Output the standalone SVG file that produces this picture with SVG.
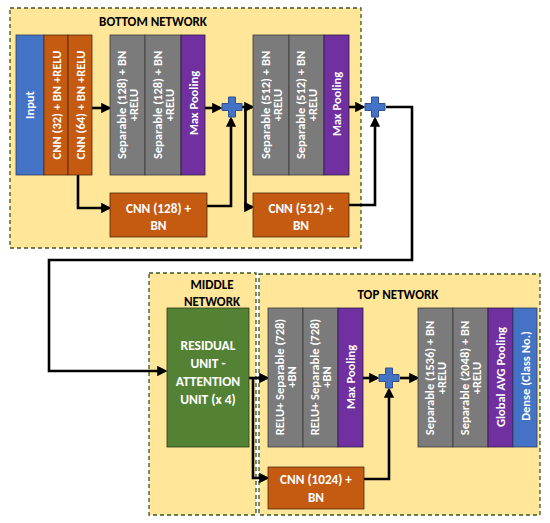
<svg xmlns="http://www.w3.org/2000/svg" width="550" height="523" viewBox="0 0 550 523">
<style>
.panel{fill:#FFE699;stroke:#38572A;stroke-width:1.3;stroke-dasharray:4 3}
.title{font-family:Carlito,"Liberation Sans",sans-serif;font-weight:bold;font-size:13px;fill:#000;text-anchor:middle}
.lbl{font-family:Carlito,"Liberation Sans",sans-serif;font-weight:bold;font-size:12.5px;fill:#fff;text-anchor:middle}
.hl{font-size:13.2px}
.blue{fill:#4472C4;stroke:#2F3F5F;stroke-width:0.8}
.org{fill:#C55A11;stroke:#4A2A10;stroke-width:0.8}
.gray{fill:#7B7B7B;stroke:#3A3A3A;stroke-width:0.8}
.pur{fill:#7030A0;stroke:#2A1A40;stroke-width:0.8}
.grn{fill:#548235;stroke:#2A3A1A;stroke-width:0.8}
.plus{fill:#4472C4;stroke:#2F528F;stroke-width:1}
.wire{fill:none;stroke:#000;stroke-width:2.6;marker-end:url(#ah)}
</style>
<defs>
<marker id="ah" markerWidth="4" markerHeight="4" refX="3" refY="2" orient="auto" markerUnits="strokeWidth">
<path d="M0,0 L4,2 L0,4 Z" fill="#000"/>
</marker>
<path id="plusShape" d="M-3.5,-10 H3.5 V-3.5 H10 V3.5 H3.5 V10 H-3.5 V3.5 H-10 V-3.5 H-3.5 Z"/>
</defs>

<g id="panel-bottom">
<rect class="panel" x="10" y="8" width="351" height="240"/>
<text class="title" x="153" y="26">BOTTOM NETWORK</text>
</g>
<g id="panel-middle">
<rect class="panel" x="149" y="273" width="107" height="242"/>
<text class="title" x="212" y="289">MIDDLE</text>
<text class="title" x="212" y="306">NETWORK</text>
</g>
<g id="panel-top">
<rect class="panel" x="259" y="274" width="281" height="241"/>
<text class="title" x="398" y="299">TOP NETWORK</text>
</g>

<g id="connectors">
<path class="wire" d="M92,108 H109"/>
<path class="wire" d="M205,108 H220"/>
<path class="wire" d="M242,107 H252"/>
<path class="wire" d="M78,175 V208 H109"/>
<path class="wire" d="M207,206 H231 V119"/>
<path class="wire" d="M245.5,107 V207 H252"/>
<path class="wire" d="M349,107 H363"/>
<path class="wire" d="M349,205 H375 V119"/>
<path class="wire" d="M386,107 H412 V260 H49 V371 H165"/>
<path class="wire" d="M249,378 H267"/>
<path class="wire" d="M253,378 V478 H267"/>
<path class="wire" d="M363,378 H377"/>
<path class="wire" d="M400,378 H417"/>
<path class="wire" d="M364,479 H389 V390"/>
</g>

<g id="input">
<rect class="blue" x="16" y="35" width="28" height="140"/>
<text class="lbl" transform="translate(30,105) rotate(-90)" y="3.5">Input</text>
</g>
<g id="cnn32">
<rect class="org" x="44" y="35" width="24" height="140"/>
<text class="lbl" transform="translate(56,105) rotate(-90)" y="4.5">CNN (32) + BN +RELU</text>
</g>
<g id="cnn64">
<rect class="org" x="68" y="35" width="24" height="140"/>
<text class="lbl" transform="translate(80,105) rotate(-90)" y="4.5">CNN (64) + BN +RELU</text>
</g>
<g id="sep128a">
<rect class="gray" x="110" y="35" width="35" height="140"/>
<text class="lbl" transform="translate(127.5,105) rotate(-90)"><tspan x="0" y="-1.5">Separable (128) + BN</tspan><tspan x="0" y="10.5">+RELU</tspan></text>
</g>
<g id="sep128b">
<rect class="gray" x="145" y="35" width="36" height="140"/>
<text class="lbl" transform="translate(163,105) rotate(-90)"><tspan x="0" y="-1.5">Separable (128) + BN</tspan><tspan x="0" y="10.5">+RELU</tspan></text>
</g>
<g id="maxpool1">
<rect class="pur" x="181" y="35" width="24" height="140"/>
<text class="lbl" transform="translate(193,103) rotate(-90)" y="4.5">Max Pooling</text>
</g>
<g id="cnn128">
<rect class="org" x="110" y="193" width="97" height="44"/>
<text class="lbl hl" x="158.5" y="213">CNN (128) +</text>
<text class="lbl hl" x="158.5" y="230">BN</text>
</g>
<g id="add1">
<use href="#plusShape" class="plus" transform="translate(232,107)"/>
</g>
<g id="sep512a">
<rect class="gray" x="253" y="35" width="36" height="140"/>
<text class="lbl" transform="translate(271,105) rotate(-90)"><tspan x="0" y="-1.5">Separable (512) + BN</tspan><tspan x="0" y="10.5">+RELU</tspan></text>
</g>
<g id="sep512b">
<rect class="gray" x="289" y="35" width="35" height="140"/>
<text class="lbl" transform="translate(306.5,105) rotate(-90)"><tspan x="0" y="-1.5">Separable (512) + BN</tspan><tspan x="0" y="10.5">+RELU</tspan></text>
</g>
<g id="maxpool2">
<rect class="pur" x="324" y="35" width="25" height="140"/>
<text class="lbl" transform="translate(336.5,104) rotate(-90)" y="4.5">Max Pooling</text>
</g>
<g id="cnn512">
<rect class="org" x="253" y="193" width="96" height="44"/>
<text class="lbl hl" x="301" y="213">CNN (512) +</text>
<text class="lbl hl" x="301" y="230">BN</text>
</g>
<g id="add2">
<use href="#plusShape" class="plus" transform="translate(375,107)"/>
</g>

<g id="residual">
<rect class="grn" x="167" y="308" width="82" height="139"/>
<text class="lbl" x="208" y="350" style="font-size:13.5px">RESIDUAL</text>
<text class="lbl" x="208" y="368" style="font-size:13.5px">UNIT -</text>
<text class="lbl" x="208" y="386" style="font-size:13.5px">ATTENTION</text>
<text class="lbl" x="208" y="404" style="font-size:13.5px">UNIT (x 4)</text>
</g>

<g id="sep728a">
<rect class="gray" x="268" y="308" width="35" height="139"/>
<text class="lbl" transform="translate(285.5,377) rotate(-90)"><tspan x="0" y="-1.5">RELU+ Separable (728)</tspan><tspan x="0" y="10.5">+BN</tspan></text>
</g>
<g id="sep728b">
<rect class="gray" x="303" y="308" width="35" height="139"/>
<text class="lbl" transform="translate(320.5,377) rotate(-90)"><tspan x="0" y="-1.5">RELU+ Separable (728)</tspan><tspan x="0" y="10.5">+BN</tspan></text>
</g>
<g id="maxpool3">
<rect class="pur" x="338" y="308" width="25" height="139"/>
<text class="lbl" transform="translate(350.5,377) rotate(-90)" y="4.5">Max Pooling</text>
</g>
<g id="cnn1024">
<rect class="org" x="268" y="467" width="96" height="42"/>
<text class="lbl hl" x="316" y="484">CNN (1024) +</text>
<text class="lbl hl" x="316" y="502">BN</text>
</g>
<g id="add3">
<use href="#plusShape" class="plus" transform="translate(389,378)"/>
</g>
<g id="sep1536">
<rect class="gray" x="418" y="308" width="35" height="139"/>
<text class="lbl" transform="translate(435.5,378) rotate(-90)"><tspan x="0" y="-1.5">Separable (1536) + BN</tspan><tspan x="0" y="10.5">+RELU</tspan></text>
</g>
<g id="sep2048">
<rect class="gray" x="453" y="308" width="35" height="139"/>
<text class="lbl" transform="translate(470.5,378) rotate(-90)"><tspan x="0" y="-1.5">Separable (2048) + BN</tspan><tspan x="0" y="10.5">+RELU</tspan></text>
</g>
<g id="gap">
<rect class="pur" x="488" y="308" width="25" height="139"/>
<text class="lbl" transform="translate(500.5,377) rotate(-90)" y="4.5">Global AVG Pooling</text>
</g>
<g id="dense">
<rect class="blue" x="513" y="308" width="24" height="139"/>
<text class="lbl" transform="translate(525,376) rotate(-90)" y="4.5">Dense (Class No.)</text>
</g>
</svg>
